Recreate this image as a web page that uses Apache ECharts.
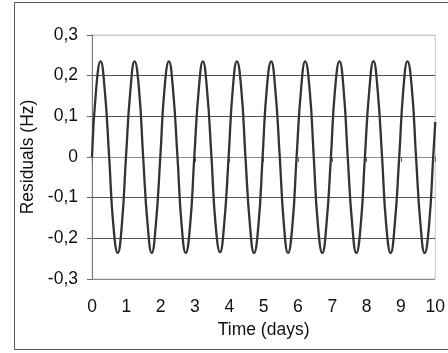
<!DOCTYPE html>
<html>
<head>
<meta charset="utf-8">
<script src="https://cdn.jsdelivr.net/npm/echarts@6/dist/echarts.min.js"></script>
<style>
  html, body { margin: 0; padding: 0; background: #fff; }
  #main { width: 448px; height: 353px; }
</style>
</head>
<body>
<div id="main"></div>
<script>
// time (days)
const timeDays = [
  0.00, 0.12, 0.25, 0.37, 0.50, 0.62, 0.75, 0.87,
  0.99, 1.12, 1.24, 1.37, 1.49, 1.62, 1.74, 1.86,
  1.99, 2.11, 2.24, 2.36, 2.49, 2.61, 2.73, 2.86,
  2.98, 3.11, 3.23, 3.35, 3.48, 3.60, 3.73, 3.85,
  3.98, 4.10, 4.22, 4.35, 4.47, 4.60, 4.72, 4.85,
  4.97, 5.09, 5.22, 5.34, 5.47, 5.59, 5.71, 5.84,
  5.96, 6.09, 6.21, 6.34, 6.46, 6.58, 6.71, 6.83,
  6.96, 7.08, 7.21, 7.33, 7.45, 7.58, 7.70, 7.83,
  7.95, 8.08, 8.20, 8.32, 8.45, 8.57, 8.70, 8.82,
  8.95, 9.07, 9.19, 9.32, 9.44, 9.57, 9.69, 9.82,
  9.94, 10.00
];

// residuals (Hz)
const residuals = [
  0, 0.166, 0.235, 0.166, 0, -0.166, -0.236, -0.166,
  0, 0.166, 0.235, 0.166, 0, -0.166, -0.236, -0.166,
  0, 0.166, 0.235, 0.166, 0, -0.166, -0.236, -0.166,
  0, 0.166, 0.235, 0.166, 0, -0.166, -0.234, -0.166,
  0, 0.166, 0.235, 0.166, 0, -0.166, -0.236, -0.166,
  0, 0.166, 0.235, 0.166, 0, -0.166, -0.236, -0.166,
  0, 0.166, 0.235, 0.166, 0, -0.166, -0.236, -0.166,
  0, 0.166, 0.235, 0.166, 0, -0.166, -0.236, -0.166,
  0, 0.166, 0.236, 0.166, 0, -0.166, -0.236, -0.166,
  0, 0.166, 0.235, 0.166, 0, -0.166, -0.236, -0.166,
  0, 0.086
];

const yTickLabels = ["-0,3", "-0,2", "-0,1", "0", "0,1", "0,2", "0,3"];
const xTickLabels = ["0", "1", "2", "3", "4", "5", "6", "7", "8", "9", "10"];

const chart = echarts.init(document.getElementById("main"));

const labelFont = { fontFamily: "Liberation Sans", fontSize: 17.5, color: "#111" };

const option = {
  backgroundColor: "#fff",
  animation: false,
  graphic: [
    {
      type: "rect",
      shape: { x: 14.5, y: 2.5, width: 440, height: 347 },
      style: { fill: "none", stroke: "#555", lineWidth: 1 },
      silent: true
    }
  ],
  grid: {
    left: 92,
    right: 11,
    top: 35,
    bottom: 74,
    show: true,
    borderColor: "#c8c8c8",
    borderWidth: 1
  },
  xAxis: {
    type: "value",
    min: 0,
    max: 10,
    interval: 1,
    name: "Time (days)",
    nameLocation: "middle",
    nameGap: 40,
    nameTextStyle: labelFont,
    axisLine: { show: true, lineStyle: { color: "#8c8c8c", width: 1 } },
    axisTick: { show: true, inside: false, length: 5, lineStyle: { color: "#666" } },
    splitLine: { show: false },
    axisLabel: Object.assign({
      margin: 19,
      showMaxLabel: true,
      formatter: (v) => xTickLabels[Math.round(v)]
    }, labelFont)
  },
  yAxis: {
    type: "value",
    min: -0.3,
    max: 0.3,
    interval: 0.1,
    name: "Residuals (Hz)",
    nameLocation: "middle",
    nameGap: 55,
    nameTextStyle: labelFont,
    axisLine: { show: true, onZero: false, lineStyle: { color: "#7a7a7a", width: 1 } },
    axisTick: { show: true, inside: false, length: 5, lineStyle: { color: "#666" } },
    splitLine: {
      show: true,
      lineStyle: {
        color: ["#8c8c8c", "#555", "#555", "#555", "#555", "#555", "#c8c8c8"],
        width: 1
      }
    },
    axisLabel: Object.assign({
      margin: 14,
      formatter: (v) => yTickLabels[Math.round((v + 0.3) * 10)]
    }, labelFont)
  },
  series: [
    {
      type: "line",
      data: timeDays.map((t, i) => [t, residuals[i]]),
      smooth: 0.5,
      symbol: "none",
      clip: true,
      lineStyle: { color: "#333", width: 2.3 }
    }
  ]
};

chart.setOption(option);
</script>
</body>
</html>
